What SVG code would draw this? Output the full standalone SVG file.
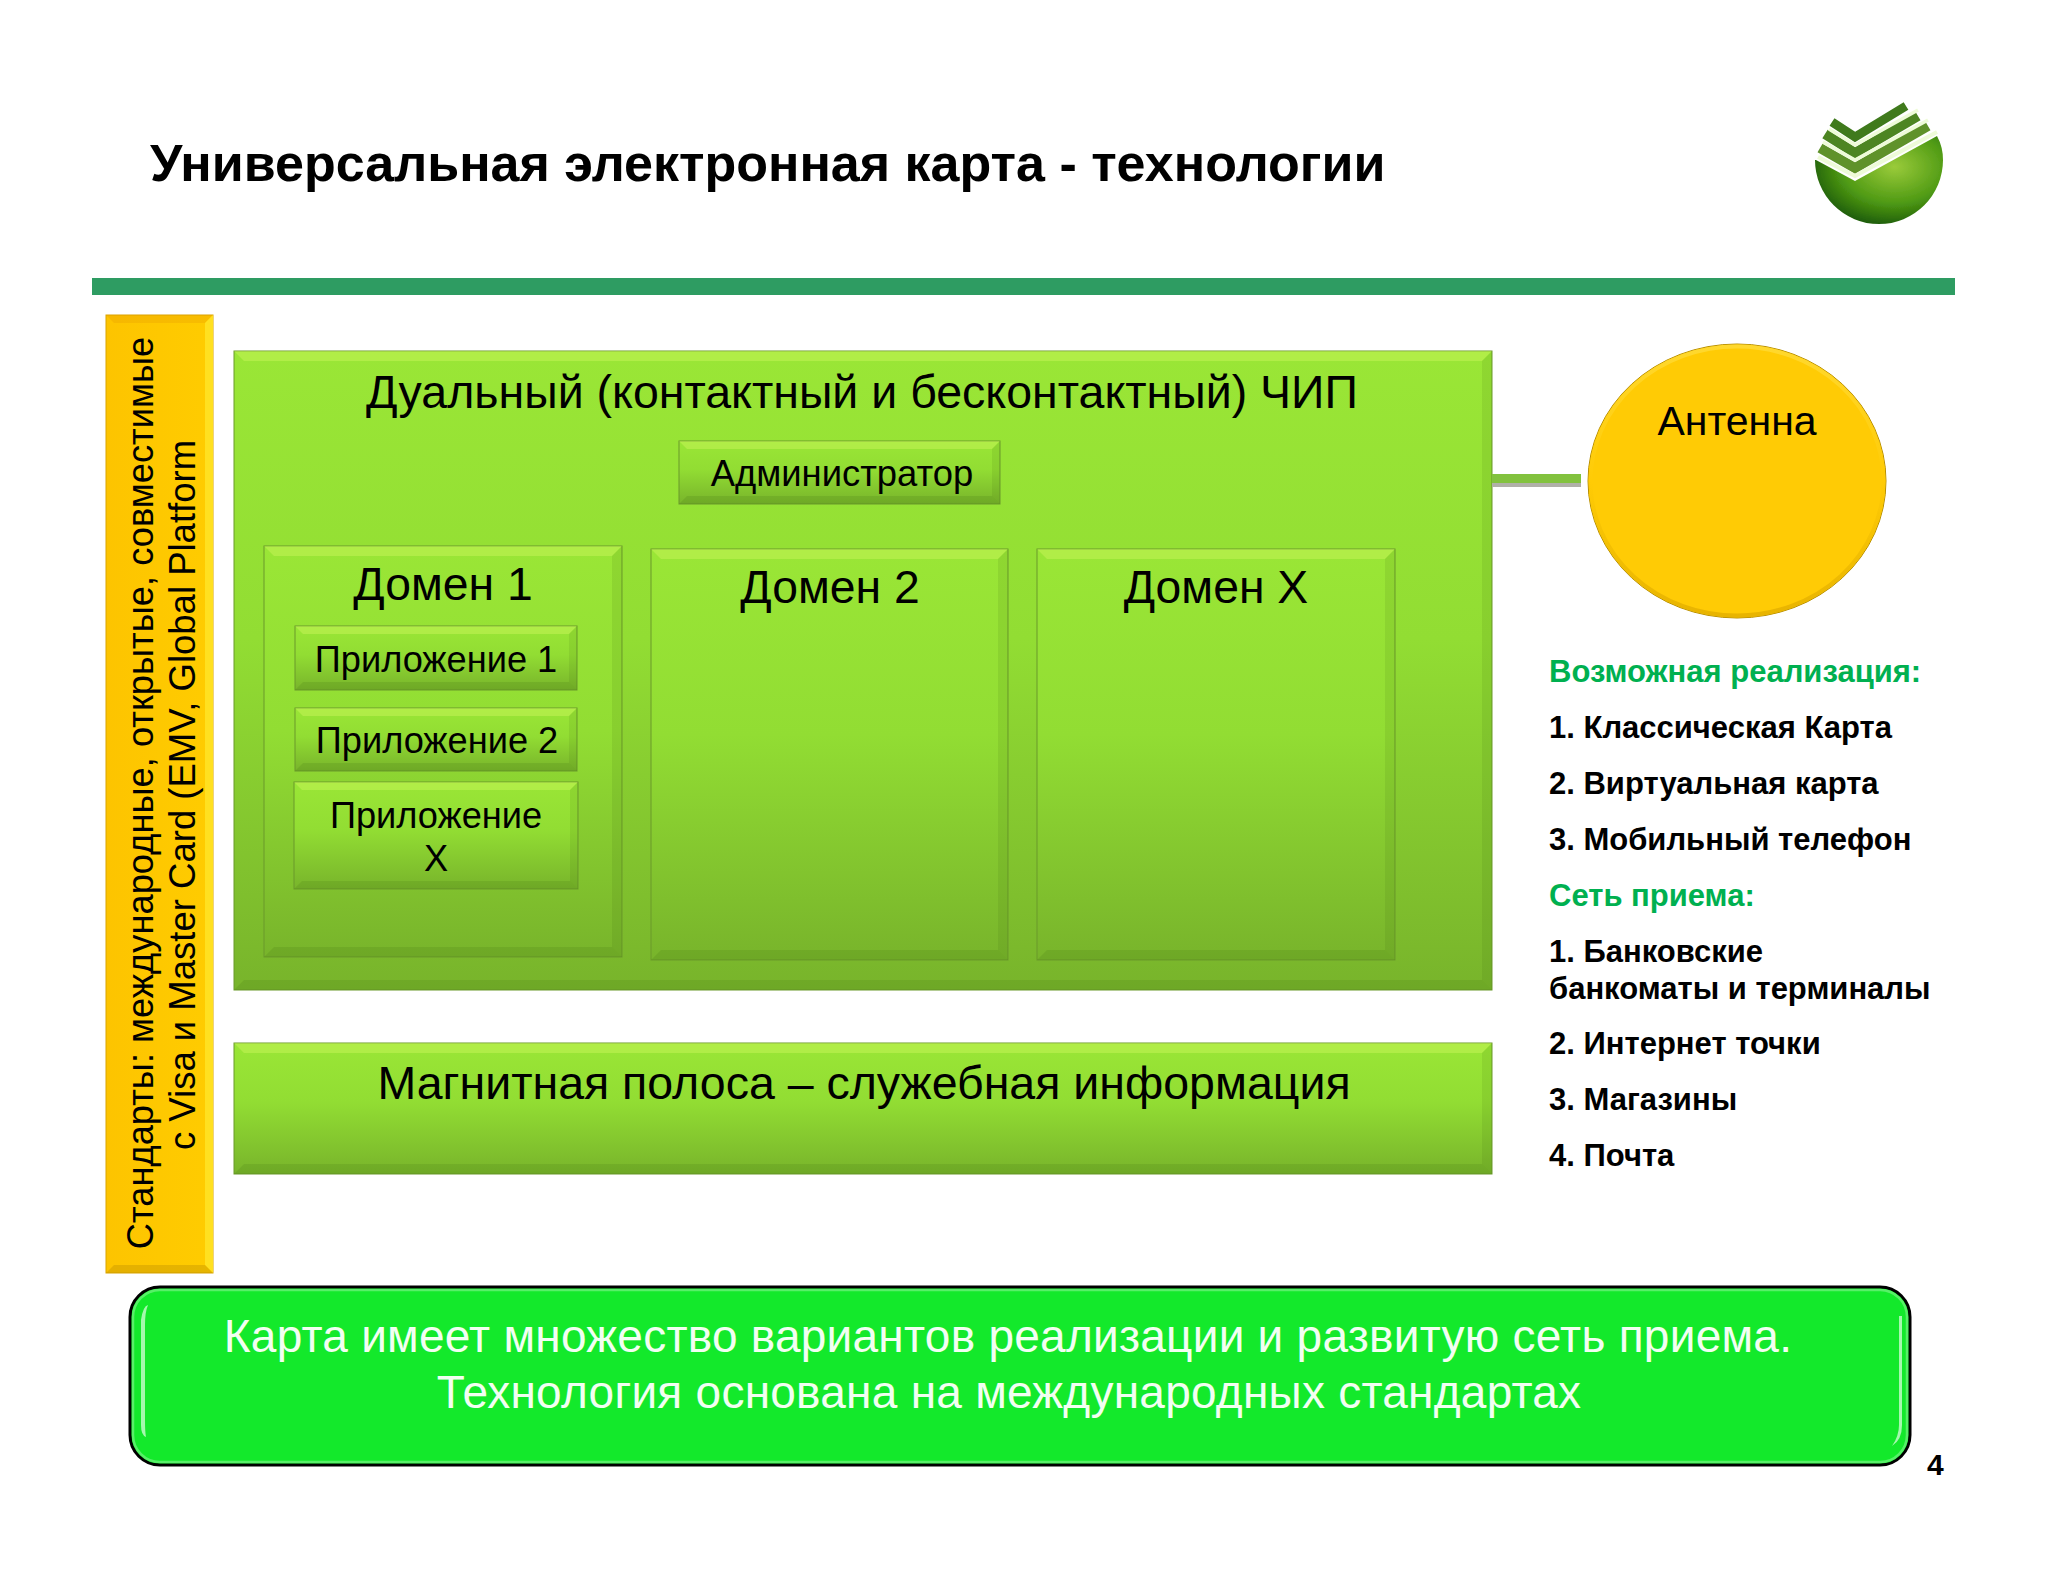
<svg xmlns="http://www.w3.org/2000/svg" width="2048" height="1582" viewBox="0 0 2048 1582">
<style>
text{font-family:"Liberation Sans",Arial,sans-serif;fill:#000}
.c{text-anchor:middle}
.lt{fill:#e8ff70;opacity:.3}
.dk{fill:#2f5a0a;opacity:.13}
.rt{fill:#2f5a0a;opacity:.1}
.box{fill:url(#g);stroke:#6a9a2a;stroke-width:1}
.side{font-weight:bold;font-size:31px}
.hd{fill:#00b050}
.sum{fill:#f2fff2;font-size:46px;letter-spacing:.25px}
</style>
<defs>
<linearGradient id="g" x1="0" y1="0" x2="0" y2="1"><stop offset="0" stop-color="#9ae636"/><stop offset=".45" stop-color="#92dd33"/><stop offset="1" stop-color="#78b42b"/></linearGradient>
<radialGradient id="bowl2" cx=".62" cy=".35" r=".75"><stop offset="0" stop-color="#9acb3a"/><stop offset=".55" stop-color="#4f9a14"/><stop offset="1" stop-color="#0f4a04"/></radialGradient>
<linearGradient id="ybar" x1="0" y1="0" x2="1" y2="0"><stop offset="0" stop-color="#fdc400"/><stop offset="1" stop-color="#ffcc00"/></linearGradient>
<linearGradient id="ringg" x1="0" y1="0" x2="0" y2="1"><stop offset="0" stop-color="#ffd82e"/><stop offset=".5" stop-color="#ffcb05"/><stop offset="1" stop-color="#e8b400"/></linearGradient>
<filter id="soft" x="-5%" y="-5%" width="110%" height="110%"><feGaussianBlur stdDeviation=".7"/></filter>
</defs>
<rect width="2048" height="1582" fill="#fff"/>

<g id="title"><text x="150" y="181" font-size="52" font-weight="bold">Универсальная электронная карта - технологии</text></g>
<g id="logo" filter="url(#soft)">
<path d="M1816 160 L1855 181 L1937 136 Q1943 147 1943 160 A64 64 0 0 1 1815 160 Z" fill="url(#bowl2)"/>
<g fill="none" stroke-linejoin="miter">
<path d="M1832 122 L1855 137 L1906 106" stroke="#3f7a1f" stroke-width="9"/>
<path d="M1825 134 L1855 153 L1918 116" stroke="#4d8524" stroke-width="10"/>
<path d="M1820 148 L1855 168 L1928 126" stroke="#5f922c" stroke-width="10"/>
<path d="M1829 129 L1855 145 L1918 110" stroke="#eefbd8" stroke-width="3.5"/>
<path d="M1823 142 L1855 160 L1928 120" stroke="#eefbd8" stroke-width="3.5"/>
<path d="M1818 157 L1855 176 L1937 132" stroke="#eefbd8" stroke-width="4"/>
</g>
</g>
<g id="rule"><rect x="92" y="278" width="1863" height="17" fill="#2e9c62"/></g>

<g id="standards">
<rect x="106" y="315" width="107" height="958" fill="url(#ybar)" stroke="#d9a400"/>
<path d="M106 315H213L205 323H114Z" fill="#e89b00" opacity=".3"/>
<path d="M213 315V1273L205 1265V323Z" fill="#ffe020"/>
<path d="M106 1273H213L205 1265H114Z" fill="#b88a00" opacity=".35"/>
<text class="c" transform="translate(153 793) rotate(-90)" font-size="36.3">Стандарты: международные, открытые, совместимые</text>
<text class="c" transform="translate(195 795) rotate(-90)" font-size="36.5">с Visa и Master Card (EMV, Global Platform</text>
</g>

<g id="chip">
<rect class="box" x="234" y="351" width="1258" height="639"/>
<path class="lt" d="M234 351H1492L1482 361H244Z"/><path class="dk" d="M234 990H1492L1482 980H244Z"/><path class="rt" d="M1492 351V990L1482 980V361Z"/>
<text class="c" x="862" y="408" font-size="46.5">Дуальный (контактный и бесконтактный) ЧИП</text>
</g>
<g id="admin">
<rect class="box" x="679" y="441" width="321" height="63"/>
<path class="lt" d="M679 441H1000L992 449H687Z"/><path class="dk" d="M679 504H1000L992 496H687Z"/><path class="rt" d="M1000 441V504L992 496V449Z"/>
<text class="c" x="842" y="486" font-size="36.4">Администратор</text>
</g>
<g id="domain1">
<rect class="box" x="264" y="546" width="358" height="411"/>
<path class="lt" d="M264 546H622L612 556H274Z"/><path class="dk" d="M264 957H622L612 947H274Z"/><path class="rt" d="M622 546V957L612 947V556Z"/>
<text class="c" x="443" y="600" font-size="46.3">Домен 1</text>
</g>
<g id="app1">
<rect class="box" x="295" y="626" width="282" height="64"/>
<path class="lt" d="M295 626H577L569 634H303Z"/><path class="dk" d="M295 690H577L569 682H303Z"/><path class="rt" d="M577 626V690L569 682V634Z"/>
<text class="c" x="436" y="672" font-size="36.2">Приложение 1</text>
</g>
<g id="app2">
<rect class="box" x="295" y="708" width="282" height="63"/>
<path class="lt" d="M295 708H577L569 716H303Z"/><path class="dk" d="M295 771H577L569 763H303Z"/><path class="rt" d="M577 708V771L569 763V716Z"/>
<text class="c" x="437" y="753" font-size="36.2">Приложение 2</text>
</g>
<g id="appx">
<rect class="box" x="294" y="782" width="284" height="107"/>
<path class="lt" d="M294 782H578L570 790H302Z"/><path class="dk" d="M294 889H578L570 881H302Z"/><path class="rt" d="M578 782V889L570 881V790Z"/>
<text class="c" x="436" y="828" font-size="36.2">Приложение</text>
<text class="c" x="436" y="871" font-size="36.2">X</text>
</g>
<g id="domain2">
<rect class="box" x="651" y="549" width="357" height="411"/>
<path class="lt" d="M651 549H1008L998 559H661Z"/><path class="dk" d="M651 960H1008L998 950H661Z"/><path class="rt" d="M1008 549V960L998 950V559Z"/>
<text class="c" x="830" y="603" font-size="46.3">Домен 2</text>
</g>
<g id="domainx">
<rect class="box" x="1037" y="549" width="358" height="411"/>
<path class="lt" d="M1037 549H1395L1385 559H1047Z"/><path class="dk" d="M1037 960H1395L1385 950H1047Z"/><path class="rt" d="M1395 549V960L1385 950V559Z"/>
<text class="c" x="1216" y="603" font-size="46.3">Домен X</text>
</g>
<g id="stripe">
<rect class="box" x="234" y="1043" width="1258" height="131"/>
<path class="lt" d="M234 1043H1492L1482 1053H244Z"/><path class="dk" d="M234 1174H1492L1482 1164H244Z"/><path class="rt" d="M1492 1043V1174L1482 1164V1053Z"/>
<text class="c" x="864" y="1099" font-size="46.5">Магнитная полоса – служебная информация</text>
</g>

<g id="connectors">
<rect x="1492" y="474" width="89" height="9" fill="#82c23e"/>
<rect x="1492" y="483" width="89" height="4" fill="#b0b0a8"/>
</g>
<g id="antenna">
<ellipse cx="1737" cy="481" rx="149" ry="137" fill="#ffcb05" stroke="#b88f00" stroke-width="1"/>
<ellipse cx="1737" cy="481" rx="146.5" ry="134.5" fill="none" stroke="url(#ringg)" stroke-width="4"/>
<text class="c" x="1737" y="435" font-size="41">Антенна</text>
</g>

<g id="notes">
<text class="side hd" x="1549" y="682">Возможная реализация:</text>
<text class="side" x="1549" y="738">1. Классическая Карта</text>
<text class="side" x="1549" y="794">2. Виртуальная карта</text>
<text class="side" x="1549" y="850">3. Мобильный телефон</text>
<text class="side hd" x="1549" y="906">Сеть приема:</text>
<text class="side" x="1549" y="962">1. Банковские</text>
<text class="side" x="1549" y="999">банкоматы и терминалы</text>
<text class="side" x="1549" y="1054">2. Интернет точки</text>
<text class="side" x="1549" y="1110">3. Магазины</text>
<text class="side" x="1549" y="1166">4. Почта</text>
</g>

<g id="summary">
<rect x="130" y="1287" width="1780" height="178" rx="30" fill="#13e92b" stroke="#000" stroke-width="3"/>
<rect x="133" y="1290" width="1774" height="172" rx="27" fill="none" stroke="#8ff59a" stroke-width="2.5" opacity=".55"/>
<path d="M141 1320Q143 1306 148 1305Q145 1312 145 1325V1420Q145 1432 146 1437Q141 1435 141 1425Z" fill="#a5f8ae"/>
<path d="M1899 1316H1902V1425Q1902 1440 1892 1446Q1899 1436 1899 1425Z" fill="#a5f8ae"/>
<text class="c sum" x="1008" y="1352">Карта имеет множество вариантов реализации и развитую сеть приема.</text>
<text class="c sum" x="1009" y="1408">Технология основана на международных стандартах</text>
</g>
<g id="page"><text x="1927" y="1475" font-size="30" font-weight="bold">4</text></g>
</svg>
